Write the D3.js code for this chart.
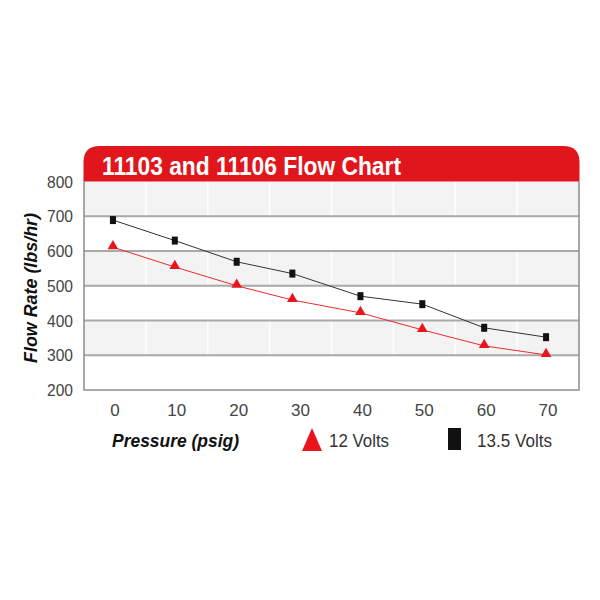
<!DOCTYPE html>
<html>
<head>
<meta charset="utf-8">
<script src="https://cdn.jsdelivr.net/npm/d3@7"></script>
<style>
  body { margin: 0; background: #fff; }
  svg { display: block; }
</style>
</head>
<body>
<svg id="chart"></svg>
<script>
// chart data
const pressure = [0, 10, 20, 29, 40, 50, 60, 70];
const volts12 = [611, 554, 500, 459, 422, 373, 327, 301];
const volts135 = [689, 630, 569, 535, 470, 447, 379, 352];
const xTicks = [0, 10, 20, 30, 40, 50, 60, 70];
const yTicks = [200, 300, 400, 500, 600, 700, 800];
const title = '11103 and 11106 Flow Chart';
const seriesNames = ['12 Volts', '13.5 Volts'];

const width = 600, height = 600;
const plotLeft = 84, plotRight = 579, plotTop = 181.5, plotBottom = 390;
const font = '"Liberation Sans", Arial, sans-serif';

const svg = d3.select('#chart')
  .attr('width', width)
  .attr('height', height);

const x = d3.scaleLinear().domain([-5, 75]).range([plotLeft, plotRight]);
const y = d3.scaleLinear().domain([200, 800]).range([plotBottom, plotTop]);

// alternating bands
const bands = [[700, 800], [500, 600], [300, 400]];
svg.selectAll('rect.band')
  .data(bands)
  .enter().append('rect')
  .attr('class', 'band')
  .attr('x', plotLeft)
  .attr('y', d => y(d[1]))
  .attr('width', plotRight - plotLeft)
  .attr('height', d => y(d[0]) - y(d[1]))
  .attr('fill', '#f3f3f3');

// white column dividers (only show on grey bands)
d3.range(1, 8).forEach(i => {
  const cx = x(-5 + i * 10);
  svg.append('line')
    .attr('x1', cx).attr('x2', cx)
    .attr('y1', plotTop).attr('y2', plotBottom)
    .attr('stroke', '#fff')
    .attr('stroke-width', 1.5);
});

// horizontal gridlines
svg.selectAll('line.grid')
  .data(yTicks.filter(d => d > 200 && d < 800))
  .enter().append('line')
  .attr('class', 'grid')
  .attr('x1', plotLeft).attr('x2', plotRight)
  .attr('y1', d => y(d)).attr('y2', d => y(d))
  .attr('stroke', '#a9a9a9')
  .attr('stroke-width', 2);

// frame: left, right, bottom
svg.append('path')
  .attr('d', `M${plotLeft},${plotTop}V${plotBottom}H${plotRight}V${plotTop}`)
  .attr('fill', 'none')
  .attr('stroke', '#8c8c8c')
  .attr('stroke-width', 1.5);

// red header with rounded top corners
const r = 16, hTop = 146;
svg.append('path')
  .attr('d', `M${plotLeft - 0.5},${plotTop}V${hTop + r}Q${plotLeft - 0.5},${hTop} ${plotLeft + r},${hTop}` +
    `H${plotRight - r}Q${plotRight + 0.5},${hTop} ${plotRight + 0.5},${hTop + r}V${plotTop}Z`)
  .attr('fill', '#e0161c');

// condensed look: squeeze the text to the width it has in the picture
svg.append('text')
  .attr('x', 102)
  .attr('y', 175)
  .attr('fill', '#fff')
  .attr('font-family', font)
  .attr('font-weight', 'bold')
  .attr('font-size', 26)
  .attr('textLength', 299)
  .attr('lengthAdjust', 'spacingAndGlyphs')
  .text(title);

// y tick labels
svg.selectAll('text.ytick')
  .data(yTicks)
  .enter().append('text')
  .attr('class', 'ytick')
  .attr('x', 73)
  .attr('y', d => y(d) + 6)
  .attr('text-anchor', 'end')
  .attr('fill', '#444')
  .attr('font-family', font)
  .attr('font-size', 17)
  .attr('textLength', 26)
  .attr('lengthAdjust', 'spacingAndGlyphs')
  .text(d => d);

// x tick labels
svg.selectAll('text.xtick')
  .data(xTicks)
  .enter().append('text')
  .attr('class', 'xtick')
  .attr('x', d => x(d))
  .attr('y', 416)
  .attr('text-anchor', 'middle')
  .attr('fill', '#444')
  .attr('font-family', font)
  .attr('font-size', 17)
  .text(d => d);

// axis titles
svg.append('text')
  .attr('transform', 'translate(37,288) rotate(-90)')
  .attr('text-anchor', 'middle')
  .attr('fill', '#111')
  .attr('font-family', font)
  .attr('font-weight', 'bold')
  .attr('font-style', 'italic')
  .attr('font-size', 19)
  .attr('textLength', 150)
  .attr('lengthAdjust', 'spacingAndGlyphs')
  .text('Flow Rate (lbs/hr)');

svg.append('text')
  .attr('x', 112)
  .attr('y', 447)
  .attr('fill', '#111')
  .attr('font-family', font)
  .attr('font-weight', 'bold')
  .attr('font-style', 'italic')
  .attr('font-size', 19)
  .attr('textLength', 127)
  .attr('lengthAdjust', 'spacingAndGlyphs')
  .text('Pressure (psig)');

// series lines
const line = d3.line()
  .x((d, i) => x(pressure[i]) - 2)
  .y(d => y(d));

svg.append('path')
  .attr('d', line(volts135))
  .attr('fill', 'none')
  .attr('stroke', '#333')
  .attr('stroke-width', 1);

svg.append('path')
  .attr('d', line(volts12))
  .attr('fill', 'none')
  .attr('stroke', '#ee2a2a')
  .attr('stroke-width', 1);

// markers
const tri = d3.symbol().type(d3.symbolTriangle).size(50);
svg.selectAll('path.tri')
  .data(volts12)
  .enter().append('path')
  .attr('class', 'tri')
  .attr('transform', (d, i) => `translate(${x(pressure[i]) - 2},${y(d) - 1})`)
  .attr('d', tri)
  .attr('fill', '#e8161c');

svg.selectAll('rect.sq')
  .data(volts135)
  .enter().append('rect')
  .attr('class', 'sq')
  .attr('x', (d, i) => x(pressure[i]) - 5)
  .attr('y', d => y(d) - 4)
  .attr('width', 6)
  .attr('height', 8)
  .attr('fill', '#111');

// legend
svg.append('path')
  .attr('d', 'M312,428L322,451H302Z')
  .attr('fill', '#e8161c');
svg.append('text')
  .attr('x', 329)
  .attr('y', 447)
  .attr('fill', '#333')
  .attr('font-family', font)
  .attr('font-size', 18)
  .attr('textLength', 60)
  .attr('lengthAdjust', 'spacingAndGlyphs')
  .text(seriesNames[0]);

svg.append('rect')
  .attr('x', 448).attr('y', 428)
  .attr('width', 13).attr('height', 22)
  .attr('fill', '#111');
svg.append('text')
  .attr('x', 477)
  .attr('y', 447)
  .attr('fill', '#333')
  .attr('font-family', font)
  .attr('font-size', 18)
  .attr('textLength', 75)
  .attr('lengthAdjust', 'spacingAndGlyphs')
  .text(seriesNames[1]);
</script>
</body>
</html>
